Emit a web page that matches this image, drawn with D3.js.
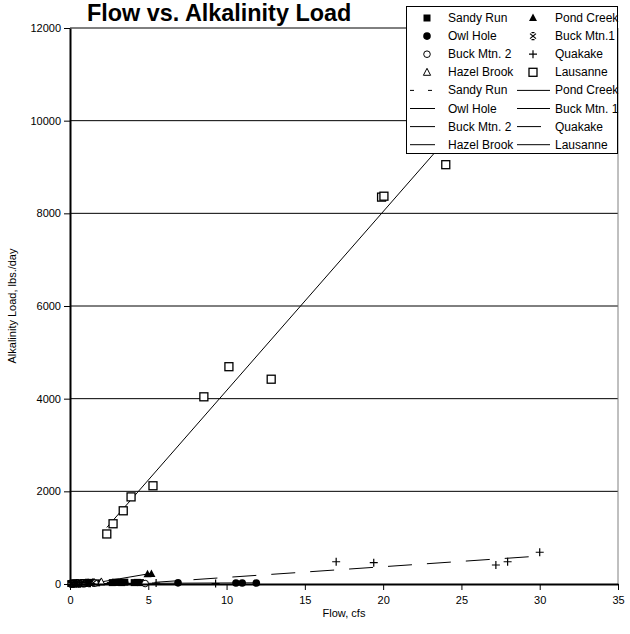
<!DOCTYPE html>
<html>
<head>
<meta charset="utf-8">
<script src="https://cdn.jsdelivr.net/npm/d3@7"></script>
<style>
  body { margin: 0; background: #fff; }
  text { font-family: "Liberation Sans", Arial, sans-serif; }
</style>
</head>
<body>
<div id="vis-container"></div>
<script>
// chart size and plot area
const width = 630;
const height = 634;
const margin = {left: 70, right: 12, top: 28, bottom: 50};

// tick values
const xTicks = [0, 5, 10, 15, 20, 25, 30, 35];
const yTicks = [0, 2000, 4000, 6000, 8000, 10000, 12000];

// data: flow (cfs) and alkalinity load (lbs/day)
const sandyRunFlow = [0.05, 0.3, 0.6, 0.9, 1.3, 1.7, 2.7, 2.9, 3.1, 3.3, 3.5, 4.1, 4.3, 4.5];
const sandyRunLoad = [10, 20, 25, 30, 35, 25, 30, 40, 35, 30, 40, 30, 35, 30];
const owlHoleFlow = [0.2, 0.5, 6.9, 10.6, 11.0, 11.9];
const owlHoleLoad = [5, 10, 25, 20, 20, 20];
const buckMtn2Flow = [0.1, 0.4, 0.8, 1.6, 4.8];
const buckMtn2Load = [5, 10, 15, 20, 10];
const hazelBrookFlow = [0.2, 0.5, 0.9, 2.0];
const hazelBrookLoad = [10, 15, 20, 45];
const pondCreekFlow = [0.4, 1.2, 4.95, 5.2];
const pondCreekLoad = [10, 25, 210, 215];
const buckMtn1Flow = [0.05, 0.15, 0.25, 0.35, 0.45, 0.6, 0.75, 0.9, 1.05, 1.25, 1.5];
const buckMtn1Load = [5, 10, 8, 12, 15, 10, 20, 15, 25, 20, 30];
const quakakeFlow = [5.5, 9.3, 17.0, 19.4, 27.2, 27.95, 30.0];
const quakakeLoad = [20, 10, 480, 460, 410, 480, 685];
const lausanneFlow = [2.35, 2.75, 3.4, 3.9, 5.3, 8.55, 10.15, 12.85, 19.9, 20.05, 24.0];
const lausanneLoad = [1080, 1300, 1580, 1880, 2120, 4040, 4690, 4420, 8350, 8370, 9050];

// trend line end points (flow, load)
const sandyRunTrend = [[0.05, 15], [4.5, 45]];
const owlHoleTrend = [[0.2, 8], [11.9, 25]];
const buckMtn2Trend = [[0.1, 8], [4.8, 15]];
const hazelBrookTrend = [[0.2, 8], [2.0, 40]];
const pondCreekTrend = [[1.2, 0], [5.2, 230]];
const buckMtn1Trend = [[0.05, 5], [1.5, 30]];
const quakakeTrend = [[5.4, 36], [30, 604]];
const lausanneTrend = [[2.35, 1220], [30, 11900]];

const series = [
  {name: "Sandy Run", flow: sandyRunFlow, load: sandyRunLoad, trend: sandyRunTrend, marker: "squareFill", dash: "4,14"},
  {name: "Owl Hole", flow: owlHoleFlow, load: owlHoleLoad, trend: owlHoleTrend, marker: "circleFill", dash: null},
  {name: "Buck Mtn. 2", flow: buckMtn2Flow, load: buckMtn2Load, trend: buckMtn2Trend, marker: "circleOpen", dash: null},
  {name: "Hazel Brook", flow: hazelBrookFlow, load: hazelBrookLoad, trend: hazelBrookTrend, marker: "triangleOpen", dash: null},
  {name: "Pond Creek", flow: pondCreekFlow, load: pondCreekLoad, trend: pondCreekTrend, marker: "triangleFill", dash: null},
  {name: "Buck Mtn.1", lineName: "Buck Mtn. 1", flow: buckMtn1Flow, load: buckMtn1Load, trend: buckMtn1Trend, marker: "star", dash: null},
  {name: "Quakake", flow: quakakeFlow, load: quakakeLoad, trend: quakakeTrend, marker: "plus", dash: "24,15"},
  {name: "Lausanne", flow: lausanneFlow, load: lausanneLoad, trend: lausanneTrend, marker: "squareOpen", dash: null}
];

const svg = d3.select("#vis-container")
  .append("svg")
  .attr("width", width)
  .attr("height", height);

const x = d3.scaleLinear().domain([0, 35]).range([margin.left, width - margin.right]);
const y = d3.scaleLinear().domain([0, 12000]).range([height - margin.bottom, margin.top]);

// gridlines
svg.append("g")
  .selectAll("line")
  .data(yTicks.slice(1))
  .join("line")
  .attr("x1", x(0)).attr("x2", x(35))
  .attr("y1", d => y(d)).attr("y2", d => y(d))
  .attr("stroke", "#000").attr("stroke-width", 1);

// right border of plot area
svg.append("line")
  .attr("x1", x(35)).attr("x2", x(35))
  .attr("y1", y(12000)).attr("y2", y(0))
  .attr("stroke", "#808080").attr("stroke-width", 1);

// trend lines
const line = d3.line().x(d => x(d[0])).y(d => y(d[1]));
svg.append("g")
  .selectAll("path")
  .data(series)
  .join("path")
  .attr("d", d => line(d.trend))
  .attr("fill", "none")
  .attr("stroke", "#000")
  .attr("stroke-width", 1)
  .attr("stroke-dasharray", d => d.dash);

// marker shapes
function drawMarker(g, type, cx, cy) {
  if (type === "squareFill") {
    g.append("rect").attr("x", cx - 3.5).attr("y", cy - 3.5).attr("width", 7).attr("height", 7).attr("fill", "#000");
  } else if (type === "squareOpen") {
    g.append("rect").attr("x", cx - 4).attr("y", cy - 4).attr("width", 8).attr("height", 8)
      .attr("fill", "#fff").attr("stroke", "#000").attr("stroke-width", 1.3);
  } else if (type === "circleFill") {
    g.append("circle").attr("cx", cx).attr("cy", cy).attr("r", 3.8).attr("fill", "#000");
  } else if (type === "circleOpen") {
    g.append("circle").attr("cx", cx).attr("cy", cy).attr("r", 3.3)
      .attr("fill", "#fff").attr("stroke", "#000").attr("stroke-width", 1);
  } else if (type === "triangleFill") {
    g.append("path").attr("d", `M${cx},${cy - 4.5}L${cx + 4},${cy + 3}L${cx - 4},${cy + 3}Z`).attr("fill", "#000");
  } else if (type === "triangleOpen") {
    g.append("path").attr("d", `M${cx},${cy - 4}L${cx + 3.6},${cy + 3}L${cx - 3.6},${cy + 3}Z`)
      .attr("fill", "#fff").attr("stroke", "#000").attr("stroke-width", 1);
  } else if (type === "plus") {
    g.append("path").attr("d", `M${cx - 4},${cy}H${cx + 4}M${cx},${cy - 4}V${cy + 4}`)
      .attr("stroke", "#000").attr("stroke-width", 1.2);
  } else if (type === "star") {
    g.append("path")
      .attr("d", `M${cx - 3},${cy - 2.5}L${cx + 3},${cy + 2.5}M${cx + 3},${cy - 2.5}L${cx - 3},${cy + 2.5}` +
                 `M${cx - 1.5},${cy - 3.5}H${cx + 1.5}M${cx - 1.5},${cy + 3.5}H${cx + 1.5}`)
      .attr("stroke", "#000").attr("stroke-width", 1.2);
  }
}

// markers
series.forEach(s => {
  const g = svg.append("g");
  s.flow.forEach((f, i) => drawMarker(g, s.marker, x(f), y(s.load[i])));
});

// axes
const yAxis = svg.append("g")
  .attr("transform", `translate(${margin.left},0)`)
  .call(d3.axisLeft(y).tickValues(yTicks).tickFormat(d3.format("d"))
    .tickSize(6).tickSizeOuter(0).tickPadding(3));
const xAxis = svg.append("g")
  .attr("transform", `translate(0,${height - margin.bottom})`)
  .call(d3.axisBottom(x).tickValues(xTicks).tickSize(6).tickSizeOuter(0).tickPadding(6));
[xAxis, yAxis].forEach(a => {
  a.select(".domain").attr("stroke", "#000").attr("stroke-width", 2);
  a.selectAll(".tick line").attr("stroke", "#000");
  a.selectAll("text").attr("font-size", "11px").attr("fill", "#000")
    .attr("font-family", "'Liberation Sans', Arial, sans-serif");
});

// axis titles
svg.append("text")
  .attr("x", (x(0) + x(35)) / 2).attr("y", 617)
  .attr("text-anchor", "middle").attr("font-size", "11px")
  .text("Flow, cfs");
svg.append("text")
  .attr("transform", `translate(16,${(y(0) + y(12000)) / 2}) rotate(-90)`)
  .attr("text-anchor", "middle").attr("font-size", "11px")
  .text("Alkalinity Load, lbs./day");

// title
svg.append("text")
  .attr("x", 87).attr("y", 21)
  .attr("font-size", "23.4px").attr("font-weight", "bold")
  .text("Flow vs. Alkalinity Load");

// legend
const legend = svg.append("g");
legend.append("rect")
  .attr("x", 406.5).attr("y", 6.5).attr("width", 211).attr("height", 147)
  .attr("fill", "#fff").attr("stroke", "#000").attr("stroke-width", 1);

const rowY = i => 18 + i * 18.1;
const colSym = [427, 533];
const colText = [448, 555];
const colLine = [[410, 435], [517, 550]];

series.forEach((s, i) => {
  const col = i < 4 ? 0 : 1;
  const row = i % 4;
  // marker row
  drawMarker(legend, s.marker, colSym[col], rowY(row));
  legend.append("text")
    .attr("x", colText[col]).attr("y", rowY(row) + 4)
    .attr("font-size", "12px").text(s.name);
  // trend line row
  const ly = rowY(row + 4);
  legend.append("line")
    .attr("x1", colLine[col][0]).attr("x2", colLine[col][1])
    .attr("y1", ly).attr("y2", ly)
    .attr("stroke", "#000").attr("stroke-width", 1)
    .attr("stroke-dasharray", s.dash);
  legend.append("text")
    .attr("x", colText[col]).attr("y", ly + 4)
    .attr("font-size", "12px").text(s.lineName || s.name);
});
</script>
</body>
</html>
